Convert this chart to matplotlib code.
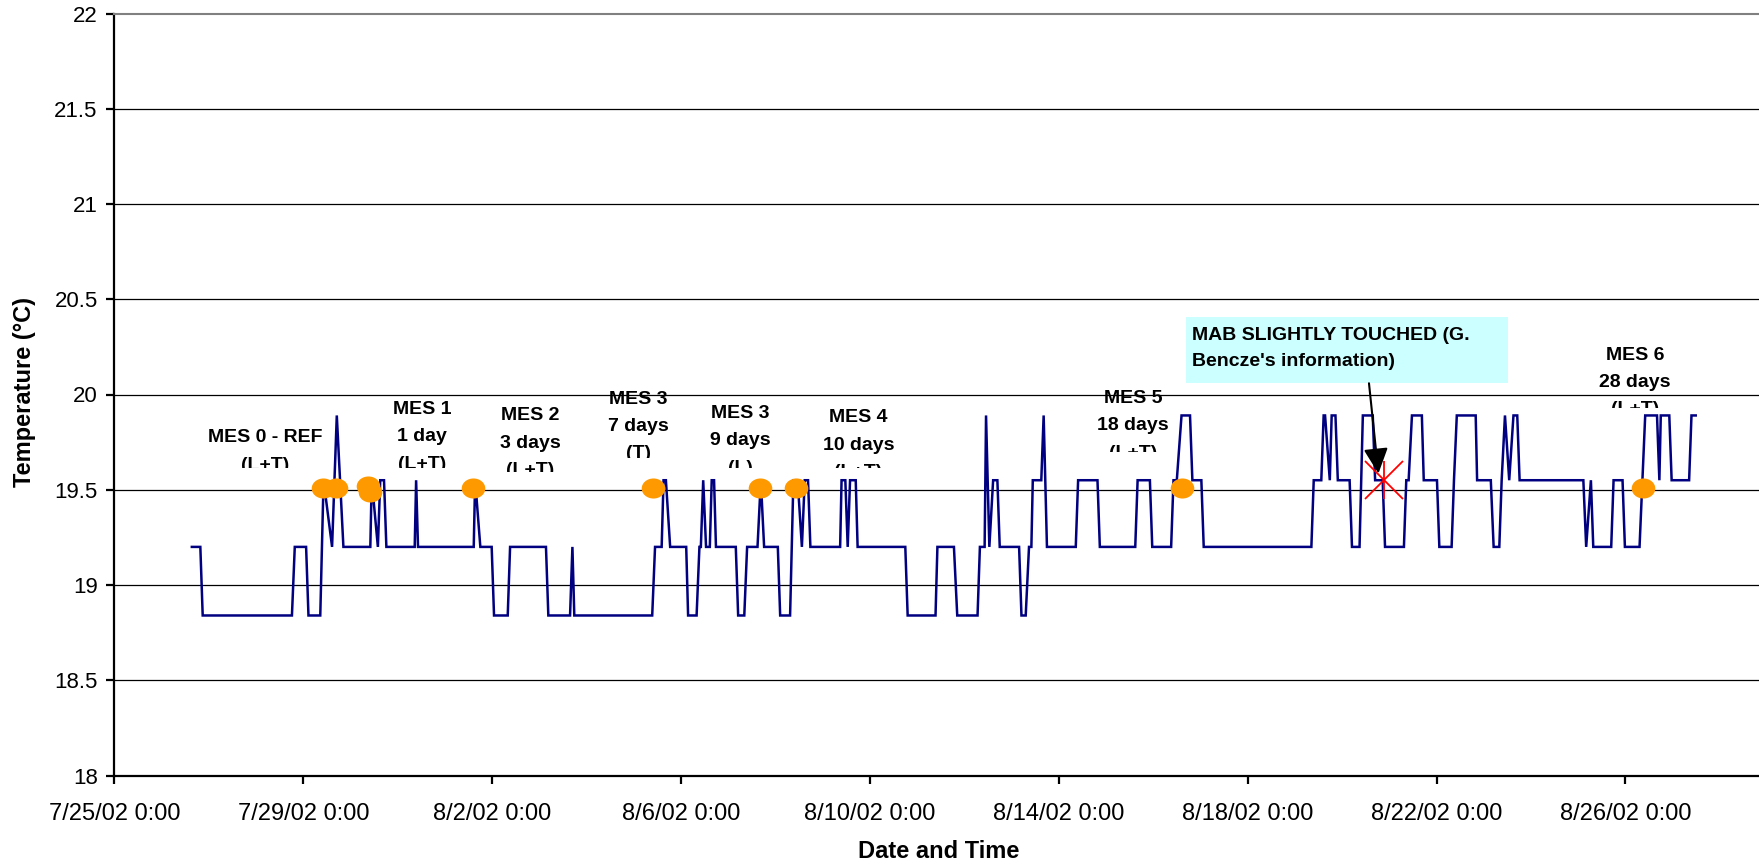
import numpy as np
import pandas as pd
import matplotlib
matplotlib.use('Agg')
import matplotlib.pyplot as plt
import matplotlib.dates as mdates
from matplotlib.path import Path
from matplotlib.transforms import Affine2D, Bbox, TransformedBbox
from matplotlib.patches import Rectangle

plt.rcParams['font.family'] = ['Liberation Sans', 'DejaVu Sans']

START = pd.Timestamp('2002-07-25 00:00')

# ---- temperature record: elapsed days since 7/25/02 0:00 and reading (°C)
elapsed_days = [
    1.64, 1.82, 1.87, 3.76, 3.82, 4.06, 4.11, 4.36, 4.43, 4.61, 4.71, 4.85,
    5.42, 5.45, 5.58, 5.63, 5.71, 5.76, 6.36, 6.39, 6.43, 7.61, 7.64, 7.75,
    7.99, 8.04, 8.33, 8.38, 9.14, 9.19, 9.65, 9.70, 9.74, 11.39, 11.45, 11.59,
    11.63, 11.68, 11.77, 12.11, 12.15, 12.33, 12.39, 12.42, 12.47, 12.53, 12.61, 12.65,
    12.70, 12.74, 13.16, 13.21, 13.34, 13.40, 13.62, 13.69, 13.76, 14.05, 14.10, 14.31,
    14.38, 14.47, 14.56, 14.62, 14.69, 14.74, 15.37, 15.40, 15.48, 15.53, 15.58, 15.70,
    15.74, 16.75, 16.80, 17.39, 17.43, 17.78, 17.85, 18.28, 18.33, 18.43, 18.46, 18.53,
    18.61, 18.70, 18.75, 19.16, 19.21, 19.30, 19.37, 19.42, 19.45, 19.63, 19.68, 19.75,
    20.36, 20.41, 20.82, 20.87, 21.62, 21.67, 21.93, 21.98, 22.38, 22.43, 22.50, 22.60,
    22.78, 22.83, 23.02, 23.07, 25.35, 25.40, 25.56, 25.61, 25.64, 25.74, 25.78, 25.86,
    25.91, 26.16, 26.21, 26.37, 26.44, 26.65, 26.70, 26.86, 26.91, 27.31, 27.36, 27.41,
    27.48, 27.69, 27.73, 28.01, 28.06, 28.32, 28.37, 28.43, 28.83, 28.86, 29.15, 29.21,
    29.33, 29.38, 29.45, 29.54, 29.63, 29.71, 29.76, 31.11, 31.17, 31.27, 31.32, 31.70,
    31.75, 31.94, 31.99, 32.30, 32.42, 32.67, 32.72, 32.75, 32.93, 32.98, 33.35, 33.40,
    33.49,
]
temperature = [
    19.20, 19.20, 18.84, 18.84, 19.20, 19.20, 18.84, 18.84, 19.55, 19.20, 19.89, 19.20,
    19.20, 19.55, 19.20, 19.55, 19.55, 19.20, 19.20, 19.55, 19.20, 19.20, 19.55, 19.20,
    19.20, 18.84, 18.84, 19.20, 19.20, 18.84, 18.84, 19.20, 18.84, 18.84, 19.20, 19.20,
    19.55, 19.55, 19.20, 19.20, 18.84, 18.84, 19.20, 19.20, 19.55, 19.20, 19.20, 19.55,
    19.55, 19.20, 19.20, 18.84, 18.84, 19.20, 19.20, 19.55, 19.20, 19.20, 18.84, 18.84,
    19.55, 19.55, 19.20, 19.55, 19.55, 19.20, 19.20, 19.55, 19.55, 19.20, 19.55, 19.55,
    19.20, 19.20, 18.84, 18.84, 19.20, 19.20, 18.84, 18.84, 19.20, 19.20, 19.89, 19.20,
    19.55, 19.55, 19.20, 19.20, 18.84, 18.84, 19.20, 19.20, 19.55, 19.55, 19.89, 19.20,
    19.20, 19.55, 19.55, 19.20, 19.20, 19.55, 19.55, 19.20, 19.20, 19.55, 19.55, 19.89,
    19.89, 19.55, 19.55, 19.20, 19.20, 19.55, 19.55, 19.89, 19.89, 19.55, 19.89, 19.89,
    19.55, 19.55, 19.20, 19.20, 19.89, 19.89, 19.55, 19.55, 19.20, 19.20, 19.55, 19.55,
    19.89, 19.89, 19.55, 19.55, 19.20, 19.20, 19.55, 19.89, 19.89, 19.55, 19.55, 19.20,
    19.20, 19.55, 19.89, 19.55, 19.89, 19.89, 19.55, 19.55, 19.20, 19.55, 19.20, 19.20,
    19.55, 19.55, 19.20, 19.20, 19.89, 19.89, 19.55, 19.89, 19.89, 19.55, 19.55, 19.89,
    19.89,
]

# ---- measurement markers (orange)
mes_days = [4.41, 4.69, 5.37, 5.41, 7.60, 11.41, 13.67, 14.43, 22.62, 32.38]
mes_temp = [19.51, 19.51, 19.52, 19.49, 19.51, 19.51, 19.51, 19.51, 19.51, 19.51]

# ---- MAB touched point (red star)
touch_days = [26.88]
touch_temp = [19.55]

# ---- axis ticks
x_tick_days = [0, 4, 8, 12, 16, 20, 24, 28, 32]
x_tick_labels = ['7/25/02 0:00', '7/29/02 0:00', '8/2/02 0:00', '8/6/02 0:00',
                 '8/10/02 0:00', '8/14/02 0:00', '8/18/02 0:00', '8/22/02 0:00',
                 '8/26/02 0:00']
y_ticks = [18, 18.5, 19, 19.5, 20, 20.5, 21, 21.5, 22]
y_tick_labels = ['18', '18.5', '19', '19.5', '20', '20.5', '21', '21.5', '22']

# ---- text labels
mes_labels = [
    ['MES 0 - REF', '(L+T)'],
    ['MES 1', '1 day', '(L+T)'],
    ['MES 2', '3 days', '(L+T)'],
    ['MES 3', '7 days', '(T)'],
    ['MES 3', '9 days', '(L)'],
    ['MES 4', '10 days', '(L+T)'],
    ['MES 5', '18 days', '(L+T)'],
    ['MES 6', '28 days', '(L+T)'],
]
note_lines = ["MAB SLIGHTLY TOUCHED (G.", "Bencze's information)"]

# ------------------------------------------------------------------
t0 = mdates.date2num(START)
t = t0 + np.asarray(elapsed_days)

W, H = 1759, 865
fig = plt.figure(figsize=(W / 100, H / 100), dpi=100)
ax_left, ax_right, ax_top, ax_bot = 114.4, 1759, 13.5, 775.5
ax = fig.add_axes([ax_left / W, 1 - ax_bot / H, (ax_right - ax_left) / W, (ax_bot - ax_top) / H])

ax.set_xlim(t0, t0 + 34.83)
ax.set_ylim(18, 22)

# grid
for yv in y_ticks[1:-1]:
    ax.axhline(yv, color='black', lw=0.9, zorder=1)

ax.plot(t, temperature, color='#000080', lw=1.8, zorder=3, solid_joinstyle='miter')

ell = Path.unit_circle().transformed(Affine2D().scale(1.0, 0.85))
ax.plot(t0 + np.asarray(mes_days), mes_temp, linestyle='none', marker=ell,
        markersize=17, color='#FF9900', markeredgewidth=0, zorder=4)

for mk in ['x', '|']:
    ax.plot(t0 + np.asarray(touch_days), touch_temp, linestyle='none', marker=mk,
            markersize=28, color='red', markeredgewidth=1.3, zorder=5)

# axes styling
for s in ['left', 'bottom']:
    ax.spines[s].set_color('black')
    ax.spines[s].set_linewidth(1.6)
ax.spines['top'].set_color('#808080')
ax.spines['top'].set_linewidth(1.5)
ax.spines['right'].set_visible(False)

ax.set_yticks(y_ticks)
ax.set_yticklabels(y_tick_labels)
ax.set_xticks([t0 + d for d in x_tick_days])
ax.set_xticklabels(x_tick_labels)
ax.tick_params(axis='y', direction='out', length=6, width=1.6, labelsize=16, pad=6)
ax.tick_params(axis='x', direction='out', length=6, width=1.6, labelsize=17, pad=14)

ax.set_xlabel('Date and Time', fontsize=17, fontweight='bold')
ax.xaxis.label.set_va('center')
ax.xaxis.set_label_coords(0.5014, -0.0995)
ax.set_ylabel('Temperature (°C)', fontsize=17, fontweight='bold')
ax.yaxis.label.set_va('center')
ax.yaxis.set_label_coords(-0.0545, 0.503)

# MES labels: (x in days, top of first line (°C), clip bottom (°C))
label_layout = [
    (3.19, 19.817, 19.613),
    (6.51, 19.967, 19.613),
    (8.80, 19.933, 19.595),
    (11.09, 20.020, 19.665),
    (13.26, 19.945, 19.613),
    (15.76, 19.922, 19.613),
    (21.57, 20.024, 19.700),
    (32.20, 20.251, 19.928),
]
pitch = 27.4 / 190.5
for lines, (dx, ytop, yclip) in zip(mes_labels, label_layout):
    clip = TransformedBbox(Bbox([[t0 + dx - 3, yclip], [t0 + dx + 3, 23]]), ax.transData)
    for i, txt in enumerate(lines):
        tx = ax.text(t0 + dx, ytop - i * pitch, txt, ha='center', va='top',
                     fontsize=14, fontweight='bold', zorder=6)
        tx.set_clip_box(clip)
        tx.set_clip_on(True)

# note box + arrow
ax.add_patch(Rectangle((t0 + 22.69, 20.062), 29.51 - 22.69, 20.407 - 20.062,
                       facecolor='#CCFFFF', edgecolor='none', zorder=6))
ax.text(t0 + 22.83, 20.353, note_lines[0], ha='left', va='top', fontsize=14,
        fontweight='bold', zorder=7)
ax.text(t0 + 22.83, 20.218, note_lines[1], ha='left', va='top', fontsize=14,
        fontweight='bold', zorder=7)
ax.annotate('', xy=(t0 + 26.77, 19.585), xytext=(t0 + 26.57, 20.059),
            arrowprops=dict(arrowstyle='-|>,head_length=1.55,head_width=0.75',
                            color='black', lw=1.5, shrinkA=0, shrinkB=0,
                            mutation_scale=10),
            zorder=7)

fig.savefig('out.png', dpi=100, facecolor='white')
